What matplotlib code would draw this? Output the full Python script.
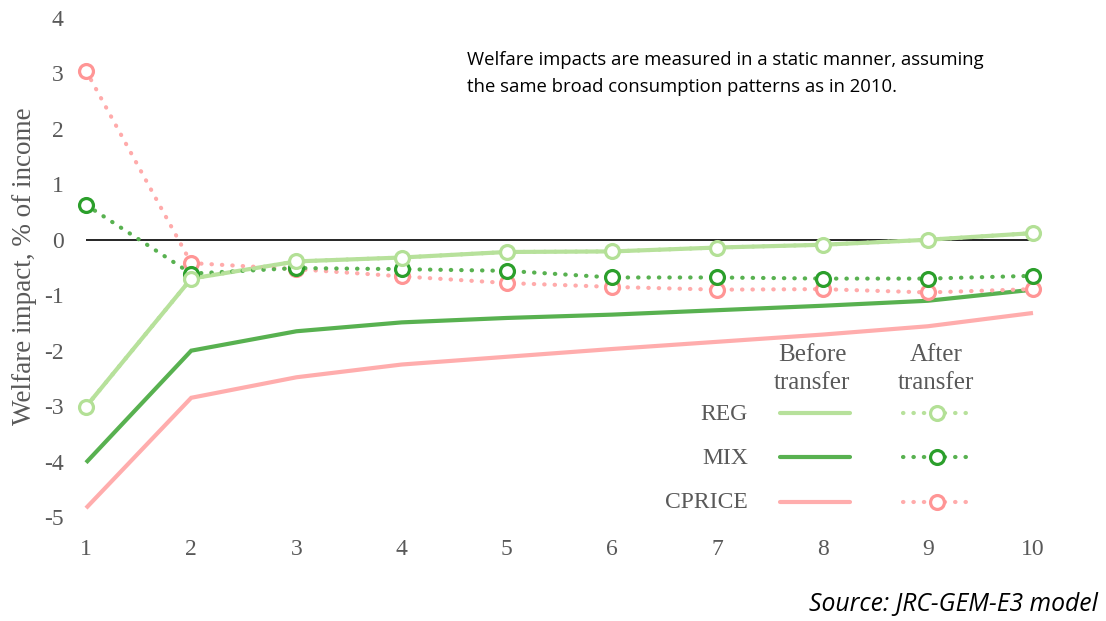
import matplotlib
matplotlib.use("Agg")
import matplotlib.pyplot as plt
from matplotlib.lines import Line2D

plt.rcParams["axes.unicode_minus"] = False

# Income deciles
deciles = [1, 2, 3, 4, 5, 6, 7, 8, 9, 10]

# Welfare impact, % of income - before transfer
reg_before = [-3.01, -0.70, -0.39, -0.32, -0.22, -0.21, -0.14, -0.09, 0.00, 0.12]
mix_before = [-4.02, -2.00, -1.65, -1.49, -1.41, -1.35, -1.27, -1.19, -1.10, -0.90]
cprice_before = [-4.84, -2.85, -2.48, -2.25, -2.11, -1.97, -1.84, -1.71, -1.56, -1.32]

# Welfare impact, % of income - after transfer
reg_after = [-3.01, -0.70, -0.39, -0.32, -0.22, -0.21, -0.14, -0.09, 0.00, 0.12]
mix_after = [0.63, -0.61, -0.51, -0.53, -0.56, -0.68, -0.68, -0.70, -0.70, -0.65]
cprice_after = [3.05, -0.42, -0.53, -0.66, -0.78, -0.85, -0.90, -0.89, -0.95, -0.89]

scenarios = ["REG", "MIX", "CPRICE"]
before = [reg_before, mix_before, cprice_before]
after = [reg_after, mix_after, cprice_after]

y_ticks = [-5, -4, -3, -2, -1, 0, 1, 2, 3, 4]

line_colors = ["#b7e19b", "#58b150", "#ffadad"]
dot_colors = ["#b7e19b", "#58b150", "#ffabab"]
marker_colors = ["#b3e096", "#2b9f2b", "#ff9595"]

W, H = 1106, 621
fig = plt.figure(figsize=(W / 100, H / 100), dpi=100)
ax = fig.add_axes([86 / W, 1 - 517 / H, (1033 - 86) / W, (517 - 18) / H])

serif = "Liberation Serif"
grey = "#595959"
dotted = (0, (0.1, 2.4))

for vals, c in zip(before, line_colors):
    ax.plot(deciles, vals, color=c, lw=3.0, solid_capstyle="butt",
            solid_joinstyle="miter", zorder=3, clip_on=False)

for idx in [2, 1, 0]:
    ax.plot(deciles, after[idx], color=dot_colors[idx], lw=3.0,
            linestyle=dotted, dash_capstyle="round", zorder=4, clip_on=False)
for idx in [2, 1, 0]:
    ax.plot(deciles, after[idx], linestyle="none", marker="o", ms=10,
            mfc="white", mec=marker_colors[idx], mew=2.3, zorder=5,
            clip_on=False)

ax.axhline(0, color="black", lw=1.2, zorder=2)

ax.set_xlim(1, 10)
ax.set_ylim(-5, 4)
ax.set_xticks(deciles)
ax.set_yticks(y_ticks)
for s in ax.spines.values():
    s.set_visible(False)
ax.tick_params(axis="both", length=0, labelsize=17, labelcolor=grey)
ax.tick_params(axis="y", pad=16)
ax.tick_params(axis="x", pad=16)
for lab in ax.get_xticklabels() + ax.get_yticklabels():
    lab.set_fontfamily(serif)
ax.set_ylabel("Welfare impact, % of income", fontsize=19.5, family=serif,
              color=grey)
ax.yaxis.set_label_coords((37 - 86) / (1033 - 86), (517 - 266) / (517 - 18))

fig.text(467 / W, 1 - 73.5 / H,
         "Welfare impacts are measured in a static manner, assuming\n"
         "the same broad consumption patterns as in 2010.",
         family="Open Sans", fontsize=13.3, color="black", va="center",
         ha="left", linespacing=1.67)

fig.text(1098 / W, 1 - 604 / H, "Source: JRC-GEM-E3 model",
         family="Open Sans", style="italic", fontsize=17.8, color="black",
         ha="right", va="center")

# Legend table: row labels, solid key (before), dotted key with marker (after)
def fx(x):
    return x / W

def fy(y):
    return 1 - y / H

fig.text(fx(812), fy(369), "Before\ntransfer", family=serif, fontsize=18,
         color=grey, ha="center", va="center", linespacing=1.35)
fig.text(fx(936), fy(369), "After\ntransfer", family=serif, fontsize=18,
         color=grey, ha="center", va="center", linespacing=1.35)

row_y = [413, 457, 502]
for name, yy, lc, dc, mc in zip(scenarios, row_y, line_colors, dot_colors,
                                marker_colors):
    fig.text(fx(748), fy(yy + 1), name, family=serif, fontsize=17,
             color=grey, ha="right", va="center")
    fig.add_artist(Line2D([fx(780), fx(850)], [fy(yy), fy(yy)], color=lc,
                          lw=3.0, solid_capstyle="round",
                          transform=fig.transFigure))
    fig.add_artist(Line2D([fx(903), fx(973)], [fy(yy), fy(yy)], color=dc,
                          lw=3.0, linestyle=dotted, dash_capstyle="round",
                          transform=fig.transFigure))
    fig.add_artist(Line2D([fx(937)], [fy(yy)], linestyle="none", marker="o",
                          ms=10, mfc="white", mec=mc, mew=2.3,
                          transform=fig.transFigure))

fig.savefig("out.png", dpi=100)
